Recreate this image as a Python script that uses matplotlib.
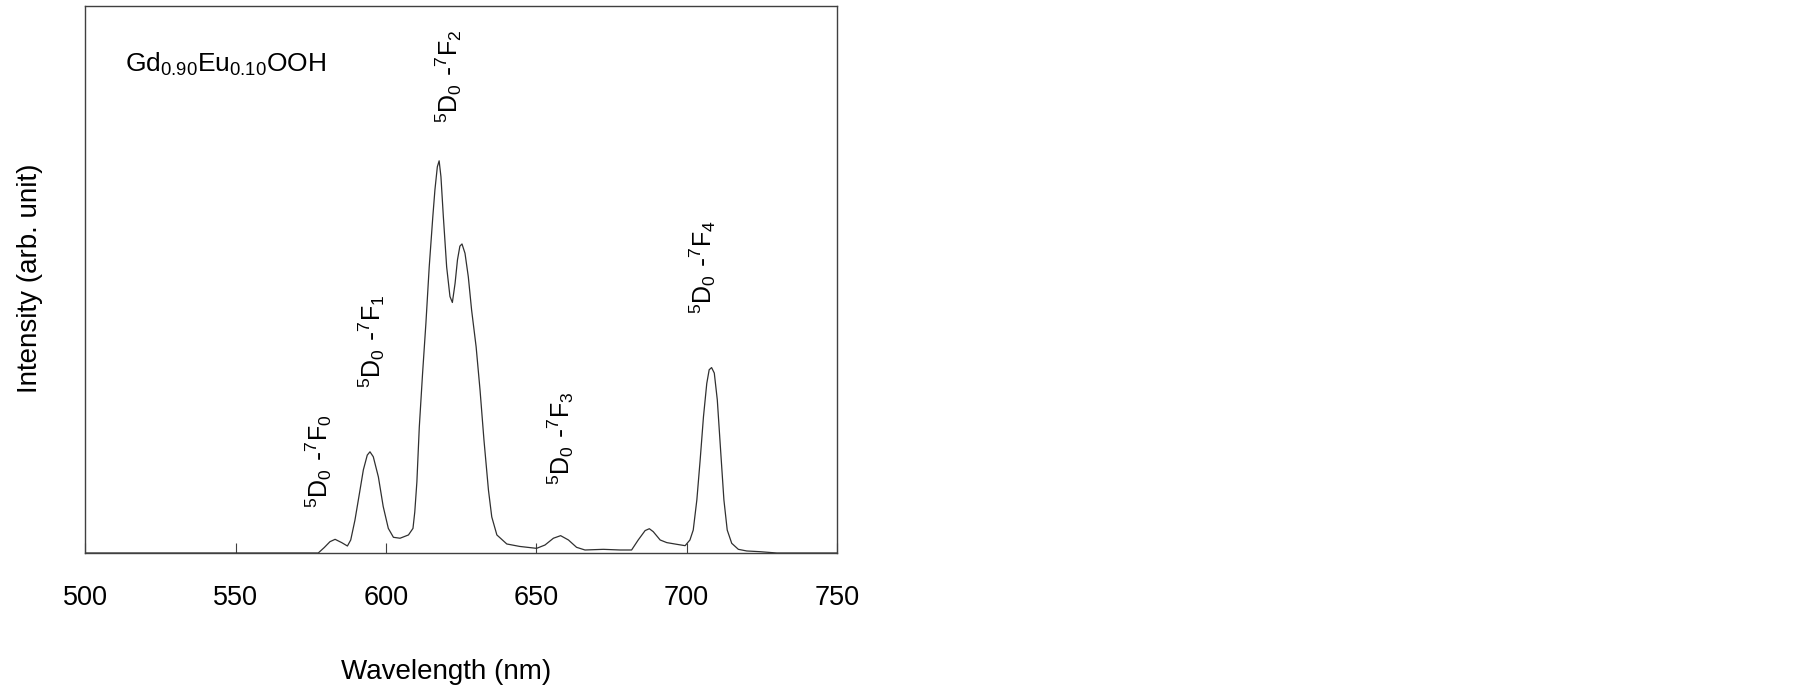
import matplotlib
matplotlib.use("Agg")
import matplotlib.pyplot as plt

plt.rcParams['font.family'] = ['Liberation Sans', 'DejaVu Sans']

# 측정 스펙트럼 (그림에서 읽은 값, 세로축은 축 높이 대비 비율)
wavelength = [500, 577.5, 579.5, 581.4, 583.1, 585.3, 587.2, 588.3, 589.7, 591.2,
              592.5, 593.8, 594.7, 595.8, 597.5, 599.1, 600.8, 602.5, 604.7, 607.5,
              609.0, 609.6, 610.3, 611.1, 612.2, 613.3, 614.4, 615.6, 616.3, 617.1,
              617.7, 618.3, 619.1, 620.2, 621.3, 622.1, 623.0, 623.8, 624.6, 625.3,
              626.3, 627.4, 628.5, 630.0, 631.3, 632.6, 634.1, 635.2, 636.9, 640.2,
              644.5, 650.1, 652.9, 655.7, 658.1, 660.7, 663.4, 666.2, 672.3, 677.9,
              681.7, 683.9, 686.2, 687.6, 688.9, 691.2, 693.4, 696.7, 699.5, 701.1,
              702.2, 703.4, 704.5, 705.6, 706.7, 707.5, 708.3, 709.2, 710.2, 711.3,
              712.4, 713.5, 715.0, 717.2, 720.0, 724.4, 730, 750]
intensity = [0, 0, 0.010, 0.0207, 0.025, 0.019, 0.0128, 0.0238, 0.060, 0.109,
             0.152, 0.179, 0.185, 0.176, 0.139, 0.085, 0.045, 0.0287, 0.027, 0.033,
             0.045, 0.075, 0.13, 0.23, 0.329, 0.420, 0.523, 0.615, 0.664, 0.706,
             0.717, 0.688, 0.615, 0.523, 0.469, 0.458, 0.493, 0.536, 0.561, 0.565,
             0.548, 0.505, 0.444, 0.377, 0.298, 0.207, 0.115, 0.066, 0.033, 0.0165,
             0.012, 0.0085, 0.0146, 0.027, 0.0317, 0.0238, 0.0104, 0.0055, 0.0067, 0.0055,
             0.0055, 0.0238, 0.041, 0.0444, 0.039, 0.0238, 0.019, 0.0159, 0.0134, 0.0238,
             0.042, 0.097, 0.170, 0.249, 0.310, 0.335, 0.339, 0.329, 0.280, 0.188,
             0.097, 0.042, 0.0177, 0.0067, 0.0037, 0.0024, 0.0, 0.0]

# 전이 라벨
labels = [r'$\mathregular{^5D_0\ \text{-}^7F_0}$', r'$\mathregular{^5D_0\ \text{-}^7F_1}$',
          r'$\mathregular{^5D_0\ \text{-}^7F_2}$', r'$\mathregular{^5D_0\ \text{-}^7F_3}$',
          r'$\mathregular{^5D_0\ \text{-}^7F_4}$']
label_x = [577.5, 595.2, 621.0, 658.2, 705.3]
label_y = [0.082, 0.302, 0.786, 0.124, 0.437]

xticks = [500, 550, 600, 650, 700, 750]

fig = plt.figure(figsize=(18.05, 6.85), dpi=100)
ax = fig.add_axes([0.0472, 0.1927, 0.4165, 0.7985])

ax.plot(wavelength, intensity, color='#303030', lw=0.9)

for t, x, y in zip(labels, label_x, label_y):
    ax.text(x, y, t, rotation=90, ha='center', va='bottom', fontsize=18)

ax.text(0.053, 0.879, r'Gd$\mathregular{_{0.90}}$Eu$\mathregular{_{0.10}}$OOH',
        transform=ax.transAxes, fontsize=19, va='baseline')

ax.set_xlim(500, 750)
ax.set_ylim(0, 1)
ax.set_xticks(xticks)
ax.set_yticks([])
ax.tick_params(axis='x', direction='in', length=7, width=0.8, color='#404040',
               labelsize=19.5, pad=23)
for s in ax.spines.values():
    s.set_color('#404040')
    s.set_linewidth(1.0)

ax.set_xlabel('Wavelength (nm)', fontsize=20)
ax.set_ylabel('Intensity (arb. unit)', fontsize=20)
ax.xaxis.set_label_coords(0.48, -0.193)
ax.yaxis.set_label_coords(-0.056, 0.503)

plt.savefig("out.png", dpi=100)
